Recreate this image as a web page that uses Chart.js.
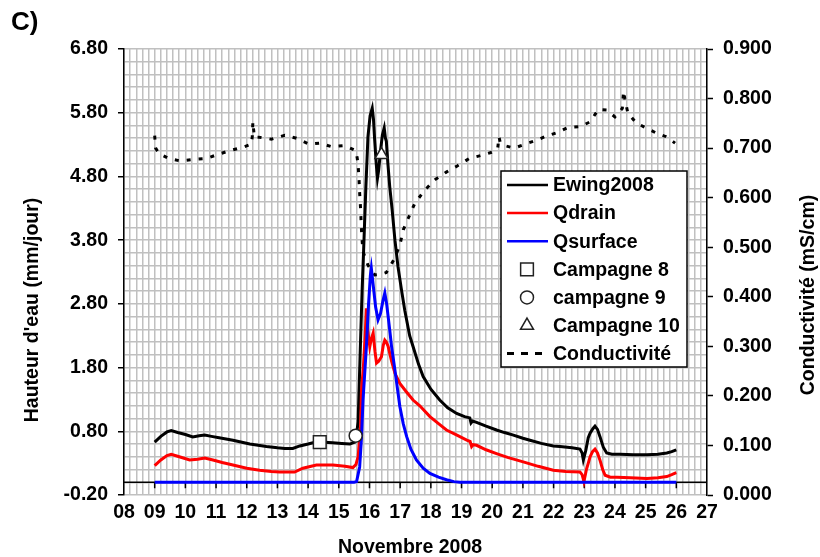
<!DOCTYPE html>
<html>
<head>
<meta charset="utf-8">
<script src="https://cdn.jsdelivr.net/npm/chart.js@4.4.1/dist/chart.umd.min.js"></script>
<style>
html,body{margin:0;padding:0;background:#fff;}
#wrap{width:820px;height:557px;}
</style>
</head>
<body>
<div id="wrap"><canvas id="c" width="820" height="557"></canvas></div>
<script>
// ---------- tick labels ----------
const dayLabels = ['08','09','10','11','12','13','14','15','16','17','18','19','20','21','22','23','24','25','26','27'];
const heightLabels = ['-0.20','0.80','1.80','2.80','3.80','4.80','5.80','6.80'];
const condLabels = ['0.000','0.100','0.200','0.300','0.400','0.500','0.600','0.700','0.800','0.900'];

// ---------- series (day of November 2008, value) ----------
const ewingDays = [9.00,9.20,9.40,9.54,9.75,10.00,10.24,10.45,10.63,10.85,11.10,11.55,12.10,12.64,13.00,13.24,13.50,13.73,14.00,14.16,14.40,14.80,15.10,15.36,15.52,15.58,15.63,15.70,15.76,15.81,15.88,15.95,16.02,16.09,16.13,16.17,16.22,16.26,16.30,16.36,16.42,16.48,16.52,16.55,16.60,16.66,16.74,16.83,16.93,17.05,17.15,17.31,17.42,17.60,17.75,18.00,18.29,18.55,18.84,19.10,19.27,19.31,19.36,19.49,19.80,20.14,20.40,20.69,21.00,21.23,21.60,21.99,22.21,22.60,22.86,22.93,22.97,23.05,23.13,23.19,23.28,23.35,23.43,23.51,23.62,23.73,23.90,24.17,24.60,25.04,25.40,25.69,25.85,26.00];
const ewingValues = [0.63,0.72,0.79,0.81,0.78,0.75,0.71,0.73,0.74,0.72,0.70,0.66,0.60,0.56,0.54,0.53,0.53,0.57,0.60,0.62,0.63,0.62,0.61,0.60,0.63,0.75,0.95,2.08,3.00,3.65,4.60,5.42,5.75,5.87,5.70,5.37,5.00,4.77,4.90,5.20,5.45,5.56,5.40,5.35,5.00,4.64,4.27,3.80,3.38,3.00,2.70,2.30,2.13,1.85,1.66,1.46,1.29,1.17,1.08,1.03,1.01,0.93,0.96,0.94,0.88,0.82,0.78,0.74,0.69,0.66,0.61,0.57,0.56,0.54,0.52,0.46,0.35,0.50,0.70,0.77,0.84,0.88,0.83,0.72,0.55,0.46,0.44,0.44,0.43,0.43,0.44,0.46,0.48,0.51];

const drainDays = [9.00,9.20,9.40,9.54,9.80,10.14,10.40,10.63,10.90,11.20,11.55,12.00,12.42,12.80,13.07,13.56,13.83,14.27,14.81,15.20,15.46,15.56,15.63,15.71,15.74,15.80,15.86,15.90,15.94,16.01,16.06,16.12,16.18,16.23,16.30,16.39,16.45,16.50,16.55,16.61,16.72,16.83,16.99,17.20,17.42,17.64,17.97,18.25,18.51,18.85,19.17,19.28,19.33,19.38,19.49,19.80,20.14,20.50,21.01,21.50,21.99,22.40,22.86,22.93,22.99,23.07,23.19,23.27,23.35,23.43,23.51,23.60,23.68,23.85,24.06,24.50,25.04,25.40,25.69,25.85,26.00];
const drainValues = [0.26,0.35,0.42,0.44,0.40,0.35,0.36,0.38,0.35,0.31,0.27,0.22,0.19,0.17,0.16,0.16,0.22,0.27,0.27,0.25,0.23,0.28,0.40,0.87,1.45,1.80,2.30,2.73,2.40,2.13,2.25,2.34,2.05,1.87,1.90,1.97,2.15,2.23,2.20,2.13,1.90,1.71,1.55,1.42,1.29,1.20,1.03,0.92,0.82,0.74,0.66,0.64,0.56,0.59,0.58,0.51,0.45,0.39,0.32,0.25,0.19,0.17,0.16,0.12,0.01,0.20,0.40,0.48,0.52,0.46,0.35,0.20,0.11,0.08,0.08,0.07,0.06,0.07,0.09,0.12,0.15];

const surfaceDays = [9.00,15.50,15.58,15.68,15.74,15.79,15.85,15.90,15.97,16.03,16.06,16.12,16.20,16.28,16.36,16.44,16.50,16.56,16.66,16.72,16.83,16.99,17.10,17.21,17.35,17.53,17.75,17.97,18.25,18.51,18.75,18.95,26.00];
const surfaceValues = [0,0,0.01,0.24,0.70,1.29,1.75,2.13,2.80,3.25,3.36,3.10,2.75,2.55,2.65,2.85,2.97,2.80,2.39,2.13,1.76,1.19,0.92,0.72,0.52,0.35,0.22,0.14,0.08,0.04,0.01,0,0];

const condDays = [9.00,9.03,9.14,9.46,9.84,10.24,10.68,11.09,11.52,11.93,12.15,12.18,12.20,12.22,12.25,12.40,12.80,13.24,13.62,14.03,14.38,14.76,15.19,15.55,15.60,15.63,15.66,15.68,15.71,15.73,15.75,15.79,15.95,16.17,16.35,16.55,16.79,16.99,17.10,17.26,17.48,17.80,18.13,18.49,18.86,19.25,19.63,20.07,20.18,20.22,20.26,20.41,20.72,21.07,21.45,21.75,22.15,22.48,22.86,23.19,23.46,23.73,24.00,24.24,24.28,24.32,24.42,24.69,25.04,25.36,25.67,25.96];
const condValues = [0.725,0.700,0.689,0.679,0.674,0.677,0.679,0.688,0.696,0.703,0.708,0.723,0.753,0.740,0.722,0.722,0.718,0.726,0.720,0.708,0.710,0.703,0.705,0.695,0.680,0.666,0.636,0.609,0.578,0.548,0.521,0.491,0.464,0.444,0.445,0.449,0.474,0.504,0.535,0.558,0.589,0.615,0.636,0.651,0.664,0.679,0.685,0.693,0.700,0.723,0.712,0.705,0.700,0.708,0.716,0.724,0.732,0.742,0.743,0.753,0.778,0.777,0.763,0.780,0.815,0.800,0.771,0.751,0.740,0.730,0.723,0.710];

const campagne8Days = [14.38];  const campagne8Values = [0.63];
const campagne9Days = [15.55];  const campagne9Values = [0.73];
const campagne10Days = [16.39]; const campagne10Values = [5.14];

// ---------- helpers ----------
const pts = (xs, ys) => xs.map((x, i) => ({x: x, y: ys[i]}));
const FONT = '"Liberation Sans", Arial, Helvetica, sans-serif';
Chart.defaults.font.family = FONT;
Chart.defaults.font.size = 19.5;
Chart.defaults.font.weight = 'bold';
Chart.defaults.color = '#000';

const GRID = '#c0c0c0';

const zeroLinePlugin = {
  id: 'zeroLine',
  beforeDatasetsDraw(chart) {
    const {ctx, chartArea: a, scales: {x, y}} = chart;
    const py = y.getPixelForValue(0);
    ctx.save();
    ctx.strokeStyle = '#000';
    ctx.lineWidth = 1.5;
    ctx.beginPath();
    ctx.moveTo(a.left, py); ctx.lineTo(a.right, py);
    for (let i = 1; i < dayLabels.length - 1; i++) {
      const px = x.getPixelForValue(8 + i);
      ctx.moveTo(px, py); ctx.lineTo(px, py + 6);
    }
    ctx.stroke();
    ctx.restore();
  }
};

const textPlugin = {
  id: 'texts',
  afterDraw(chart) {
    const ctx = chart.ctx;
    ctx.save();
    ctx.fillStyle = '#000';
    ctx.textBaseline = 'middle';
    ctx.font = 'bold 26px ' + FONT;
    ctx.textAlign = 'left';
    ctx.fillText('C)', 11, 23);
    ctx.font = 'bold 19.5px ' + FONT;
    ctx.textAlign = 'center';
    ctx.fillText('Novembre 2008', 410, 548);
    ctx.save(); ctx.translate(33, 310); ctx.rotate(-Math.PI / 2);
    ctx.fillText("Hauteur d'eau (mm/jour)", 0, 0); ctx.restore();
    ctx.save(); ctx.translate(809, 295); ctx.rotate(-Math.PI / 2);
    ctx.fillText('Conductivité (mS/cm)', 0, 0); ctx.restore();
    ctx.restore();
  }
};

const legendPlugin = {
  id: 'boxLegend',
  afterDraw(chart) {
    const ctx = chart.ctx;
    const order = ['Ewing2008','Qdrain','Qsurface','Campagne 8','campagne 9','Campagne 10','Conductivité'];
    const bx = 501, by = 171, bw = 186, bh = 196;
    ctx.save();
    ctx.fillStyle = '#fff';
    ctx.fillRect(bx, by, bw, bh);
    ctx.strokeStyle = '#000';
    ctx.lineWidth = 1.5;
    ctx.strokeRect(bx, by, bw, bh);
    ctx.font = 'bold 19.5px ' + FONT;
    ctx.textBaseline = 'middle';
    ctx.textAlign = 'left';
    order.forEach((lab, k) => {
      const ds = chart.data.datasets.find(d => d.label === lab);
      const yy = 185 + k * 28.1;
      if (ds.showLine === false) {
        ctx.save();
        ctx.fillStyle = ds.pointBackgroundColor;
        ctx.strokeStyle = ds.pointBorderColor;
        ctx.lineWidth = ds.pointBorderWidth;
        Chart.helpers.drawPoint(ctx, {pointStyle: ds.pointStyle, radius: ds.pointRadius, rotation: 0, borderWidth: ds.pointBorderWidth}, 527, yy);
        ctx.restore();
      } else {
        ctx.save();
        ctx.strokeStyle = ds.borderColor;
        ctx.lineWidth = ds.borderDash ? 3 : 2.5;
        ctx.setLineDash(ds.borderDash ? [7, 7] : []);
        ctx.beginPath(); ctx.moveTo(507, yy); ctx.lineTo(548, yy); ctx.stroke();
        ctx.restore();
      }
      ctx.fillStyle = '#000';
      ctx.fillText(lab, 553, yy + 1);
    });
    ctx.restore();
  }
};

const lineDs = (label, xs, ys, color, order, extra) => Object.assign({
  label, data: pts(xs, ys), borderColor: color, backgroundColor: color,
  borderWidth: 3, pointRadius: 0, tension: 0, fill: false, order, yAxisID: 'y'
}, extra || {});
const markDs = (label, xs, ys, style, r) => ({
  label, data: pts(xs, ys), showLine: false, pointStyle: style, pointRadius: r,
  pointBackgroundColor: '#fff', pointBorderColor: '#222', pointBorderWidth: 1.5, order: 0, yAxisID: 'y'
});

new Chart(document.getElementById('c'), {
  type: 'line',
  data: {
    datasets: [
      lineDs('Ewing2008', ewingDays, ewingValues, '#000000', 3),
      lineDs('Qdrain', drainDays, drainValues, '#ff0000', 2),
      lineDs('Qsurface', surfaceDays, surfaceValues, '#0000ff', 1),
      markDs('Campagne 8', campagne8Days, campagne8Values, 'rect', 9),
      markDs('campagne 9', campagne9Days, campagne9Values, 'circle', 6.5),
      markDs('Campagne 10', campagne10Days, campagne10Values, 'triangle', 7.5),
      lineDs('Conductivité', condDays, condValues, '#000000', 4, {yAxisID: 'y1', borderDash: [4, 8], borderWidth: 3})
    ]
  },
  options: {
    responsive: false,
    animation: false,
    events: [],
    layout: {padding: {top: 49, left: 0, right: 0, bottom: 0}},
    plugins: {legend: {display: false}, tooltip: {enabled: false}, title: {display: false}},
    scales: {
      x: {
        type: 'linear', min: 8, max: 27,
        afterBuildTicks: s => { s.ticks = Array.from({length: (dayLabels.length - 1) * 5 + 1}, (_, i) => ({value: 8 + i / 5})); },
        afterFit: s => { s.height = 62; },
        ticks: {autoSkip: false, maxRotation: 0, minRotation: 0, padding: 6,
          callback: (v, i) => (i % 5 === 0 ? dayLabels[i / 5] : '')},
        grid: {color: GRID, lineWidth: 1.5, drawTicks: false},
        border: {display: false}
      },
      y: {
        type: 'linear', position: 'left', min: -0.2, max: 6.8,
        afterBuildTicks: s => { s.ticks = Array.from({length: (heightLabels.length - 1) * 5 + 1}, (_, i) => ({value: Math.round((-0.2 + i * 0.2) * 100) / 100})); },
        afterFit: s => { s.width = 124; },
        ticks: {autoSkip: false, padding: 10,
          callback: (v, i) => (i % 5 === 0 ? heightLabels[i / 5] : '')},
        grid: {color: GRID, lineWidth: 1.5, tickLength: 6, tickWidth: 1.5,
          tickColor: c => (c.index % 5 === 0 ? '#000' : 'rgba(0,0,0,0)')},
        border: {color: '#000', width: 1.5}
      },
      y1: {
        type: 'linear', position: 'right', min: 0, max: 0.9,
        afterBuildTicks: s => { s.ticks = condLabels.map((_, i) => ({value: i / 10})); },
        afterFit: s => { s.width = 113; },
        ticks: {autoSkip: false, padding: 10, callback: (v, i) => condLabels[i]},
        grid: {drawOnChartArea: false, tickLength: 6, tickWidth: 1.5, tickColor: '#000'},
        border: {color: '#000', width: 1.5}
      }
    }
  },
  plugins: [zeroLinePlugin, legendPlugin, textPlugin]
});
</script>
</body>
</html>
